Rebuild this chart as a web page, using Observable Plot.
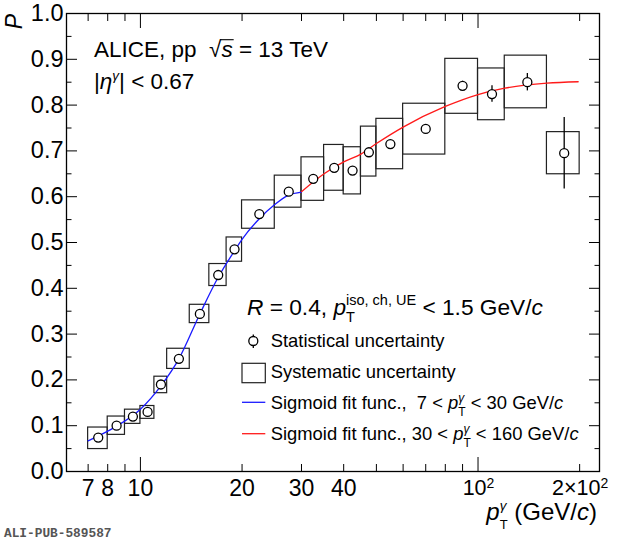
<!DOCTYPE html>
<html>
<head>
<meta charset="utf-8">
<script src="https://cdn.jsdelivr.net/npm/d3@7"></script>
<script src="https://cdn.jsdelivr.net/npm/@observablehq/plot@0.6"></script>
<style>
  body { margin: 0; background: #fff; }
</style>
</head>
<body>
<div id="chart"></div>
<script>
// bins in pT (GeV/c) and measured purity
const ptLo = [7, 8, 9, 10, 11, 12, 14, 16, 18, 20, 25, 30, 35, 40, 45, 50, 60, 80, 100, 120, 160];
const ptHi = [8, 9, 10, 11, 12, 14, 16, 18, 20, 25, 30, 35, 40, 45, 50, 60, 80, 100, 120, 160, 200];
const ptMid = [7.5, 8.5, 9.5, 10.5, 11.5, 13, 15, 17, 19, 22.5, 27.5, 32.5, 37.5, 42.5, 47.5, 55, 70, 90, 110, 140, 180];
const purity = [0.074, 0.100, 0.120, 0.130, 0.190, 0.246, 0.344, 0.429, 0.485, 0.562, 0.611, 0.639, 0.663, 0.657, 0.697, 0.715, 0.748, 0.842, 0.824, 0.850, 0.695];
const statErr = [0.003, 0.003, 0.003, 0.003, 0.004, 0.004, 0.005, 0.005, 0.005, 0.005, 0.005, 0.006, 0.006, 0.007, 0.008, 0.008, 0.008, 0.010, 0.018, 0.019, 0.078];
const sysLo = [0.049, 0.080, 0.104, 0.115, 0.171, 0.224, 0.324, 0.405, 0.458, 0.530, 0.576, 0.591, 0.613, 0.605, 0.644, 0.660, 0.692, 0.781, 0.767, 0.793, 0.649];
const sysHi = [0.096, 0.120, 0.135, 0.143, 0.207, 0.268, 0.364, 0.453, 0.511, 0.592, 0.646, 0.686, 0.713, 0.708, 0.753, 0.770, 0.803, 0.901, 0.880, 0.908, 0.741];

// sigmoid fits
const fitLowPt = [7.0, 8.5, 10, 11.5, 13, 15, 17, 19, 20, 22.5, 25, 27.4, 30];
const fitLowP = [0.067, 0.099, 0.136, 0.187, 0.246, 0.344, 0.424, 0.482, 0.507, 0.552, 0.583, 0.603, 0.610];
const fitHighPt = [30, 35, 40, 45, 50, 60, 80, 100, 120, 160, 198];
const fitHighP = [0.611, 0.650, 0.676, 0.693, 0.716, 0.752, 0.797, 0.823, 0.837, 0.848, 0.851];

// axes
const xTickLabels = [7, 8, 10, 20, 30, 40];
const xPowerLabels = [[1, 100], [2, 200]];
const xDecadeTicks = [10, 100];
const xMinorTicks = [7, 8, 9, 20, 30, 40, 50, 60, 70, 80, 90, 200];
const yTicks = [0, 0.1, 0.2, 0.3, 0.4, 0.5, 0.6, 0.7, 0.8, 0.9, 1.0];
const yMinorTicks = [0.05, 0.15, 0.25, 0.35, 0.45, 0.55, 0.65, 0.75, 0.85, 0.95];
const yTickLabels = ["0.0", "0.1", "0.2", "0.3", "0.4", "0.5", "0.6", "0.7", "0.8", "0.9", "1.0"];

const points = ptMid.map((x, i) => ({
  x, p: purity[i],
  x1: ptLo[i], x2: ptHi[i],
  s1: sysLo[i], s2: sysHi[i],
  e1: purity[i] - statErr[i], e2: purity[i] + statErr[i]
}));
const fitLow = fitLowPt.map((x, i) => ({x, p: fitLowP[i]}));
const fitHigh = fitHighPt.map((x, i) => ({x, p: fitHighP[i]}));

const font = "'Liberation Sans', Arial, Helvetica, sans-serif";

const chart = Plot.plot({
  width: 620,
  height: 543,
  marginLeft: 66,
  marginRight: 21,
  marginTop: 13,
  marginBottom: 72,
  style: {fontFamily: font, fontSize: "23px", background: "white", color: "black", overflow: "visible"},
  x: {type: "log", domain: [6.04, 229]},
  y: {domain: [0, 1]},
  marks: [
    // ticks pointing into the frame, ROOT style
    Plot.axisX(xDecadeTicks, {anchor: "bottom", tickSize: -14, fill: "none", label: null}),
    Plot.axisX(xMinorTicks, {anchor: "bottom", tickSize: -7, fill: "none", label: null}),
    Plot.axisX(xDecadeTicks, {anchor: "top", tickSize: -14, fill: "none", label: null}),
    Plot.axisX(xMinorTicks, {anchor: "top", tickSize: -7, fill: "none", label: null}),
    Plot.axisY(yTicks, {anchor: "left", tickSize: -11, fill: "none", label: null}),
    Plot.axisY(yMinorTicks, {anchor: "left", tickSize: -5.5, fill: "none", label: null}),
    Plot.axisY(yTicks, {anchor: "right", tickSize: -11, fill: "none", label: null}),
    Plot.axisY(yMinorTicks, {anchor: "right", tickSize: -5.5, fill: "none", label: null}),
    Plot.text(xTickLabels, {x: (d) => d, frameAnchor: "bottom", dy: 24, lineAnchor: "bottom", fontSize: 23}),
    Plot.text(yTicks, {y: (d) => d, text: (d, i) => yTickLabels[i], frameAnchor: "left", textAnchor: "end", dx: -3, fontSize: 23.5}),
    Plot.rect(points, {x1: "x1", x2: "x2", y1: "s1", y2: "s2", fill: "none", stroke: "#222", strokeWidth: 1.2}),
    Plot.line(fitLow, {x: "x", y: "p", stroke: "#1a1aff", strokeWidth: 1.3, curve: "monotone-x"}),
    Plot.line(fitHigh, {x: "x", y: "p", stroke: "#ff1a1a", strokeWidth: 1.3, curve: "monotone-x"}),
    Plot.ruleX(points, {x: "x", y1: "e1", y2: "e2", stroke: "black", strokeWidth: 1.3}),
    Plot.dot(points, {x: "x", y: "p", r: 4.5, fill: "white", stroke: "black", strokeWidth: 1.3}),
    Plot.frame({stroke: "black", strokeWidth: 1.3})
  ]
});
document.querySelector("#chart").append(chart);

const xs = chart.scale("x");
const svg = d3.select(chart);
const layer = svg.append("g")
  .attr("text-anchor", "start")
  .attr("fill", "black")
  .attr("xml:space", "preserve")
  .style("white-space", "pre");

// draws text pieces one after the other; "over" pieces share x with the previous piece
function rich(parent, x, y, size, parts) {
  let cx = x, lastX = x, lastW = 0;
  const placed = [];
  for (const p of parts) {
    const px = p.over ? lastX : cx;
    const t = parent.append("text")
      .attr("x", px)
      .attr("y", y + (p.dy || 0))
      .attr("font-size", p.size || size)
      .text(p.t);
    if (p.i) t.attr("font-style", "italic");
    const w = t.node().getComputedTextLength();
    placed.push({x: px, w});
    if (p.over) {
      cx = lastX + Math.max(lastW, w);
    } else {
      lastX = px;
      lastW = w;
      cx = px + w;
    }
  }
  return {end: cx, placed};
}

// 10^2 and 2x10^2 labels
for (const [m, v] of xPowerLabels) {
  const g = layer.append("g");
  const r = rich(g, 0, 494.5, 21.5, [
    {t: m === 1 ? "10" : "2\u00d710"},
    {t: "2", size: 14, dy: -7}
  ]);
  g.attr("transform", `translate(${xs.apply(v) + 1 - r.end / 2},0)`);
}

// axis titles
layer.append("text")
  .attr("transform", "translate(22,14) rotate(-90)")
  .attr("text-anchor", "end")
  .attr("font-size", 23)
  .attr("font-style", "italic")
  .text("P");

{
  const g = layer.append("g");
  const r = rich(g, 0, 520, 24, [
    {t: "p", i: true},
    {t: "T", size: 13, dy: 8.5},
    {t: "\u03b3", i: true, size: 13.5, dy: -10.5, over: true},
    {t: " (GeV/"},
    {t: "c", i: true},
    {t: ")"}
  ]);
  g.attr("transform", `translate(${597 - r.end},0)`);
}

// experiment labels
{
  const r = rich(layer, 94, 56.7, 22.5, [
    {t: "ALICE, pp  \u221a"},
    {t: "s", i: true},
    {t: " = 13 TeV"}
  ]);
  const s = r.placed[1];
  layer.append("line")
    .attr("x1", s.x - 1).attr("x2", s.x + s.w + 1)
    .attr("y1", 56.7 - 17).attr("y2", 56.7 - 17)
    .attr("stroke", "black").attr("stroke-width", 1.1);
}
rich(layer, 94, 89, 22.5, [
  {t: "|"},
  {t: "\u03b7", i: true},
  {t: "\u03b3", i: true, size: 13.5, dy: -9.5},
  {t: "| < 0.67"}
]);

// legend
rich(layer, 247, 315, 22.7, [
  {t: "R", i: true},
  {t: " = 0.4, "},
  {t: "p", i: true},
  {t: "T", size: 14.5, dy: 7},
  {t: "iso, ch, UE", size: 14.5, dy: -10.5, over: true},
  {t: " < 1.5 GeV/"},
  {t: "c", i: true}
]);

layer.append("line").attr("x1", 253.3).attr("x2", 253.3).attr("y1", 334.5).attr("y2", 348)
  .attr("stroke", "black").attr("stroke-width", 1.3);
layer.append("circle").attr("cx", 253.3).attr("cy", 341).attr("r", 4.5)
  .attr("fill", "white").attr("stroke", "black").attr("stroke-width", 1.3);
rich(layer, 270.7, 346.7, 18.4, [{t: "Statistical uncertainty"}]);

layer.append("rect").attr("x", 242).attr("y", 363.3).attr("width", 23.3).attr("height", 19.4)
  .attr("fill", "none").attr("stroke", "#222").attr("stroke-width", 1.2);
rich(layer, 270.7, 378.3, 18.4, [{t: "Systematic uncertainty"}]);

layer.append("line").attr("x1", 242).attr("x2", 265.3).attr("y1", 402.3).attr("y2", 402.3)
  .attr("stroke", "#1a1aff").attr("stroke-width", 1.3);
rich(layer, 270.7, 409.3, 18.4, [
  {t: "Sigmoid fit func.,  7 < "},
  {t: "p", i: true},
  {t: "T", size: 12, dy: 7},
  {t: "\u03b3", i: true, size: 12, dy: -7.5, over: true},
  {t: " < 30 GeV/"},
  {t: "c", i: true}
]);

layer.append("line").attr("x1", 242).attr("x2", 265.3).attr("y1", 433.7).attr("y2", 433.7)
  .attr("stroke", "#ff1a1a").attr("stroke-width", 1.3);
rich(layer, 270.7, 440, 18.4, [
  {t: "Sigmoid fit func., 30 < "},
  {t: "p", i: true},
  {t: "T", size: 12, dy: 7},
  {t: "\u03b3", i: true, size: 12, dy: -7.5, over: true},
  {t: " < 160 GeV/"},
  {t: "c", i: true}
]);

// publication id
layer.append("text")
  .attr("x", 4).attr("y", 536.5)
  .attr("font-family", "'Liberation Mono', 'DejaVu Sans Mono', monospace")
  .attr("font-weight", "bold")
  .attr("font-size", 12.8)
  .attr("fill", "#555")
  .text("ALI-PUB-589587");
</script>
</body>
</html>
